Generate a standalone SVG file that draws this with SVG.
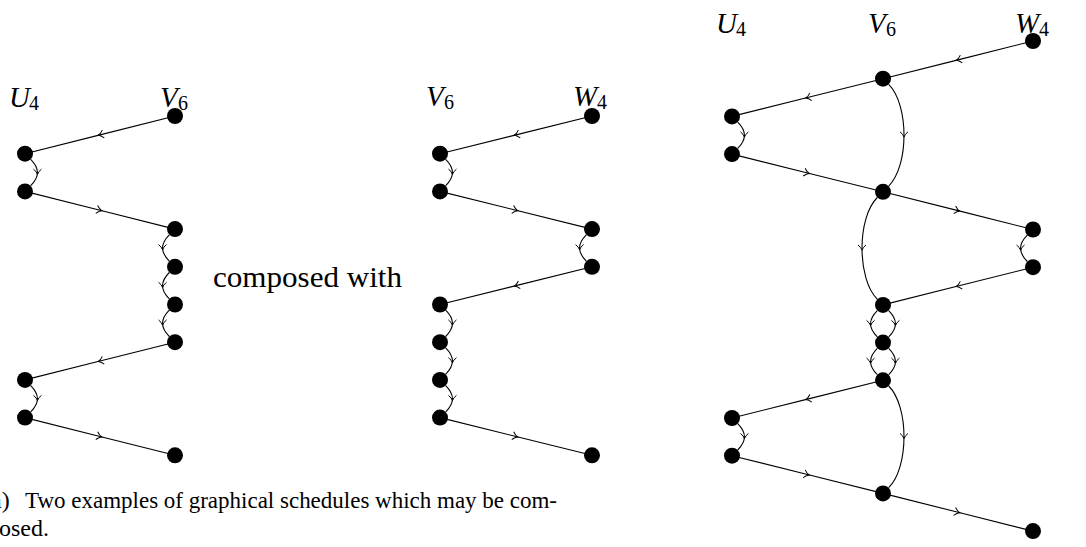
<svg xmlns="http://www.w3.org/2000/svg" width="1086" height="547" viewBox="0 0 1086 547">
<style>
.e{fill:none;stroke:#000;stroke-width:1.1;marker-mid:url(#ar)}
.n{fill:#000}
.m{font-family:"Liberation Serif",serif;font-style:italic;font-size:29px;fill:#000}
.s{font-style:normal;font-size:20px}
.t{font-family:"Liberation Serif",serif;fill:#000}
</style>
<defs>
<marker id="ar" viewBox="-6 -6 12 12" markerWidth="12" markerHeight="12" refX="0" refY="0" orient="auto" markerUnits="userSpaceOnUse"><path d="M-3.4,-4 Q-0.9,-0.8 1.8,0 Q-0.9,0.8 -3.4,4" fill="none" stroke="#000" stroke-width="1"/></marker>
</defs>
<rect width="1086" height="547" fill="#fff"/>
<g id="connectors">
<path class="e" d="M175,116 L100,134.85 L25,153.7"/>
<path class="e" transform="translate(25,153.7)" d="M5.7,5.7 C10.2,10.2 12.45,14.525 12.45,18.85 C12.45,23.175 10.2,27.5 5.7,32"/>
<path class="e" d="M25,191.4 L100,210.25 L175,229.1"/>
<path class="e" transform="translate(175,229.1) scale(-1,1)" d="M5.7,5.7 C10.2,10.2 12.45,14.525 12.45,18.85 C12.45,23.175 10.2,27.5 5.7,32"/>
<path class="e" transform="translate(175,266.8) scale(-1,1)" d="M5.7,5.7 C10.2,10.2 12.45,14.525 12.45,18.85 C12.45,23.175 10.2,27.5 5.7,32"/>
<path class="e" transform="translate(175,304.5) scale(-1,1)" d="M5.7,5.7 C10.2,10.2 12.45,14.525 12.45,18.85 C12.45,23.175 10.2,27.5 5.7,32"/>
<path class="e" d="M175,342.2 L100,361.05 L25,379.9"/>
<path class="e" transform="translate(25,379.9)" d="M5.7,5.7 C10.2,10.2 12.45,14.525 12.45,18.85 C12.45,23.175 10.2,27.5 5.7,32"/>
<path class="e" d="M25,417.6 L100,436.45 L175,455.3"/>
<path class="e" d="M592,116 L516,134.85 L440,153.7"/>
<path class="e" transform="translate(440,153.7)" d="M5.7,5.7 C10.2,10.2 12.45,14.525 12.45,18.85 C12.45,23.175 10.2,27.5 5.7,32"/>
<path class="e" d="M440,191.4 L516,210.25 L592,229.1"/>
<path class="e" transform="translate(592,229.1) scale(-1,1)" d="M5.7,5.7 C10.2,10.2 12.45,14.525 12.45,18.85 C12.45,23.175 10.2,27.5 5.7,32"/>
<path class="e" d="M592,266.8 L516,285.65 L440,304.5"/>
<path class="e" transform="translate(440,304.5)" d="M5.7,5.7 C10.2,10.2 12.45,14.525 12.45,18.85 C12.45,23.175 10.2,27.5 5.7,32"/>
<path class="e" transform="translate(440,342.2)" d="M5.7,5.7 C10.2,10.2 12.45,14.525 12.45,18.85 C12.45,23.175 10.2,27.5 5.7,32"/>
<path class="e" transform="translate(440,379.9)" d="M5.7,5.7 C10.2,10.2 12.45,14.525 12.45,18.85 C12.45,23.175 10.2,27.5 5.7,32"/>
<path class="e" d="M440,417.6 L516,436.45 L592,455.3"/>
<path class="e" d="M1033,41 L958,59.85 L883,78.7"/>
<path class="e" d="M883,78.7 L807.5,97.55 L732,116.4"/>
<path class="e" transform="translate(732,116.4)" d="M5.7,5.7 C10.2,10.2 12.45,14.525 12.45,18.85 C12.45,23.175 10.2,27.5 5.7,32"/>
<path class="e" d="M732,154.1 L807.5,172.95 L883,191.8"/>
<path class="e" transform="translate(883,78.7)" d="M5.7,5.7 C15.9,15.9 21,36.225 21,56.55 C21,76.875 15.9,97.2 5.7,107.4"/>
<path class="e" d="M883,191.8 L958,210.65 L1033,229.5"/>
<path class="e" transform="translate(1033,229.5) scale(-1,1)" d="M5.7,5.7 C10.2,10.2 12.45,14.525 12.45,18.85 C12.45,23.175 10.2,27.5 5.7,32"/>
<path class="e" d="M1033,267.2 L958,286.05 L883,304.9"/>
<path class="e" transform="translate(883,191.8) scale(-1,1)" d="M5.7,5.7 C15.9,15.9 21,36.225 21,56.55 C21,76.875 15.9,97.2 5.7,107.4"/>
<path class="e" transform="translate(883,304.9)" d="M5.7,5.7 C10.2,10.2 12.45,14.525 12.45,18.85 C12.45,23.175 10.2,27.5 5.7,32"/>
<path class="e" transform="translate(883,304.9) scale(-1,1)" d="M5.7,5.7 C10.2,10.2 12.45,14.525 12.45,18.85 C12.45,23.175 10.2,27.5 5.7,32"/>
<path class="e" transform="translate(883,342.6)" d="M5.7,5.7 C10.2,10.2 12.45,14.525 12.45,18.85 C12.45,23.175 10.2,27.5 5.7,32"/>
<path class="e" transform="translate(883,342.6) scale(-1,1)" d="M5.7,5.7 C10.2,10.2 12.45,14.525 12.45,18.85 C12.45,23.175 10.2,27.5 5.7,32"/>
<path class="e" d="M883,380.3 L807.5,399.15 L732,418"/>
<path class="e" transform="translate(732,418)" d="M5.7,5.7 C10.2,10.2 12.45,14.525 12.45,18.85 C12.45,23.175 10.2,27.5 5.7,32"/>
<path class="e" d="M732,455.7 L807.5,474.55 L883,493.4"/>
<path class="e" transform="translate(883,380.3)" d="M5.7,5.7 C15.9,15.9 21,36.225 21,56.55 C21,76.875 15.9,97.2 5.7,107.4"/>
<path class="e" d="M883,493.4 L958,512.25 L1033,531.1"/>
</g>
<g id="nodesA">
<g id="a1"><circle class="n" cx="175" cy="116" r="8"/></g>
<g id="a2"><circle class="n" cx="25" cy="153.7" r="8"/></g>
<g id="a3"><circle class="n" cx="25" cy="191.4" r="8"/></g>
<g id="a4"><circle class="n" cx="175" cy="229.1" r="8"/></g>
<g id="a5"><circle class="n" cx="175" cy="266.8" r="8"/></g>
<g id="a6"><circle class="n" cx="175" cy="304.5" r="8"/></g>
<g id="a7"><circle class="n" cx="175" cy="342.2" r="8"/></g>
<g id="a8"><circle class="n" cx="25" cy="379.9" r="8"/></g>
<g id="a9"><circle class="n" cx="25" cy="417.6" r="8"/></g>
<g id="a10"><circle class="n" cx="175" cy="455.3" r="8"/></g>
</g>
<g id="nodesB">
<g id="b1"><circle class="n" cx="592" cy="116" r="8"/></g>
<g id="b2"><circle class="n" cx="440" cy="153.7" r="8"/></g>
<g id="b3"><circle class="n" cx="440" cy="191.4" r="8"/></g>
<g id="b4"><circle class="n" cx="592" cy="229.1" r="8"/></g>
<g id="b5"><circle class="n" cx="592" cy="266.8" r="8"/></g>
<g id="b6"><circle class="n" cx="440" cy="304.5" r="8"/></g>
<g id="b7"><circle class="n" cx="440" cy="342.2" r="8"/></g>
<g id="b8"><circle class="n" cx="440" cy="379.9" r="8"/></g>
<g id="b9"><circle class="n" cx="440" cy="417.6" r="8"/></g>
<g id="b10"><circle class="n" cx="592" cy="455.3" r="8"/></g>
</g>
<g id="nodesC">
<g id="c1"><circle class="n" cx="1033" cy="41" r="8"/></g>
<g id="c2"><circle class="n" cx="883" cy="78.7" r="8"/></g>
<g id="c3"><circle class="n" cx="732" cy="116.4" r="8"/></g>
<g id="c4"><circle class="n" cx="732" cy="154.1" r="8"/></g>
<g id="c5"><circle class="n" cx="883" cy="191.8" r="8"/></g>
<g id="c6"><circle class="n" cx="1033" cy="229.5" r="8"/></g>
<g id="c7"><circle class="n" cx="1033" cy="267.2" r="8"/></g>
<g id="c8"><circle class="n" cx="883" cy="304.9" r="8"/></g>
<g id="c9"><circle class="n" cx="883" cy="342.6" r="8"/></g>
<g id="c10"><circle class="n" cx="883" cy="380.3" r="8"/></g>
<g id="c11"><circle class="n" cx="732" cy="418" r="8"/></g>
<g id="c12"><circle class="n" cx="732" cy="455.7" r="8"/></g>
<g id="c13"><circle class="n" cx="883" cy="493.4" r="8"/></g>
<g id="c14"><circle class="n" cx="1033" cy="531.1" r="8"/></g>
</g>
<g id="labels">
<text class="m" x="9" y="107">U<tspan class="s" x="29" dy="3">4</tspan></text>
<text class="m" x="160" y="107">V<tspan class="s" x="178" dy="3">6</tspan></text>
<text class="m" x="426" y="106">V<tspan class="s" x="444" dy="3">6</tspan></text>
<text class="m" x="573" y="106">W<tspan class="s" x="597" dy="3">4</tspan></text>
<text class="m" x="716" y="33">U<tspan class="s" x="736" dy="3">4</tspan></text>
<text class="m" x="868" y="33">V<tspan class="s" x="886" dy="3">6</tspan></text>
<text class="m" x="1015" y="33">W<tspan class="s" x="1039" dy="3">4</tspan></text>
<text class="t" x="213" y="287" font-size="30" textLength="189" lengthAdjust="spacingAndGlyphs">composed with</text>
</g>
<g id="caption">
<text class="t" x="-9" y="508" font-size="24">a)</text>
<text class="t" x="25" y="508" font-size="24" textLength="532" lengthAdjust="spacingAndGlyphs">Two examples of graphical schedules which may be com-</text>
<text class="t" x="-1" y="536" font-size="24">osed.</text>
</g>
</svg>
